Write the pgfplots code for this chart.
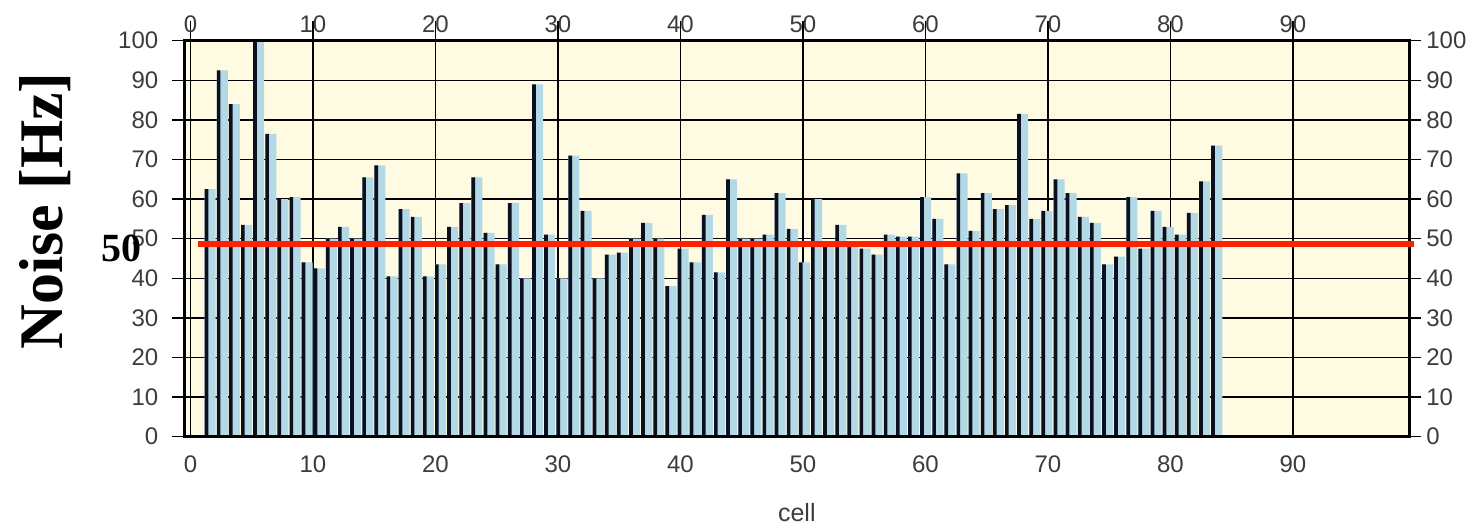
\documentclass[border=0pt]{standalone}
\usepackage{pgfplots}
\usepackage{pgfplotstable}
\usepackage{fontspec}
\setmainfont{Liberation Sans}
\newfontfamily\timesfont{Liberation Serif}
\pgfplotsset{compat=1.18}
\definecolor{cream}{HTML}{FFFBE3}
\definecolor{barblue}{HTML}{B3D9E6}
\definecolor{barblack}{HTML}{0B1020}
\definecolor{tickgray}{HTML}{3C3C3C}
\definecolor{redline}{HTML}{FF2200}
\pgfplotstableread{
c v
1 62.5
2 92.5
3 84
4 53.5
5 100
6 76.5
7 60
8 60.5
9 44
10 42.5
11 50
12 53
13 50
14 65.5
15 68.5
16 40.5
17 57.5
18 55.5
19 40.5
20 43.5
21 53
22 59
23 65.5
24 51.5
25 43.5
26 59
27 40
28 89
29 51
30 40
31 71
32 57
33 40
34 46
35 46.5
36 50
37 54
38 50
39 38
40 47.5
41 44
42 56
43 41.5
44 65
45 50
46 50
47 51
48 61.5
49 52.5
50 44
51 60
52 49
53 53.5
54 49
55 47.5
56 46
57 51
58 50.5
59 50.5
60 60.5
61 55
62 43.5
63 66.5
64 52
65 61.5
66 57.5
67 58.5
68 81.5
69 55
70 57
71 65
72 61.5
73 55.5
74 54
75 43.5
76 45.5
77 60.5
78 47.5
79 57
80 53
81 51
82 56.5
83 64.5
84 73.5
}\celldata
\begin{document}
\begin{tikzpicture}
\path[use as bounding box] (-92.15pt,-44.65pt) rectangle (645.35pt,218.35pt);
\begin{axis}[
  at={(0,0)}, anchor=south west,
  width=612.5pt, height=198pt, scale only axis,
  xmin=-0.5, xmax=99.5, ymin=0, ymax=100,
  axis background/.style={fill=cream},
  axis line style={line width=1.5pt, black},
  xtick={0,10,...,90}, ytick={0,10,...,100},
  grid=major, major grid style={black, line width=0.7pt},
  tick align=outside, major tick length=6pt,
  ytick pos=both, yticklabel pos=left,
  xticklabel pos=lower,
  xtick style={draw=none},
  ytick style={black, line width=0.7pt},
  /pgf/number format/assume math mode=true,
  ticklabel style={font=\fontsize{12}{14}\selectfont, text=tickgray},
  yticklabel style={xshift=-3.5pt},
  xticklabel style={yshift=0pt},
  xlabel={cell},
  xlabel style={font=\fontsize{12.5}{14}\selectfont, text=tickgray, at={(axis description cs:0.5,0)}, anchor=center, yshift=-38pt},
  clip=false,
]
\addplot[ybar, bar width=0.9, bar shift=0, fill=barblue, draw=none]
  table[x expr=0.99*\thisrow{c}+0.62, y=v] {\celldata};
\addplot[ybar, bar width=0.3, bar shift=0, fill=barblack, draw=none]
  table[x expr=0.99*\thisrow{c}+0.32, y=v] {\celldata};
\end{axis}
\begin{axis}[
  at={(0,0)}, anchor=south west,
  width=612.5pt, height=198pt, scale only axis,
  xmin=-0.5, xmax=99.5, ymin=0, ymax=100,
  axis line style={line width=1.5pt, black},
  xtick={0,10,...,90}, ytick={0,10,...,100},
  tick align=outside, major tick length=10pt,
  xtick pos=upper, xticklabel pos=upper,
  yticklabel pos=right,
  ytick style={draw=none},
  xtick style={black, line width=0.7pt},
  /pgf/number format/assume math mode=true,
  ticklabel style={font=\fontsize{12}{14}\selectfont, text=tickgray},
  xticklabel style={yshift=-9.5pt},
  yticklabel style={xshift=-5pt},
  clip=false,
]
\addplot[redline, line width=3pt] coordinates {(0.6,48.6) (99.9,48.6)};
\end{axis}
\node[rotate=90, font=\timesfont\bfseries\fontsize{31}{34}\selectfont] at (-69.65pt,112.85pt) {Noise [Hz]};
\node[font=\timesfont\bfseries\fontsize{20}{22}\selectfont] at (-31.4pt,94.35pt) {50};
\end{tikzpicture}
\end{document}
